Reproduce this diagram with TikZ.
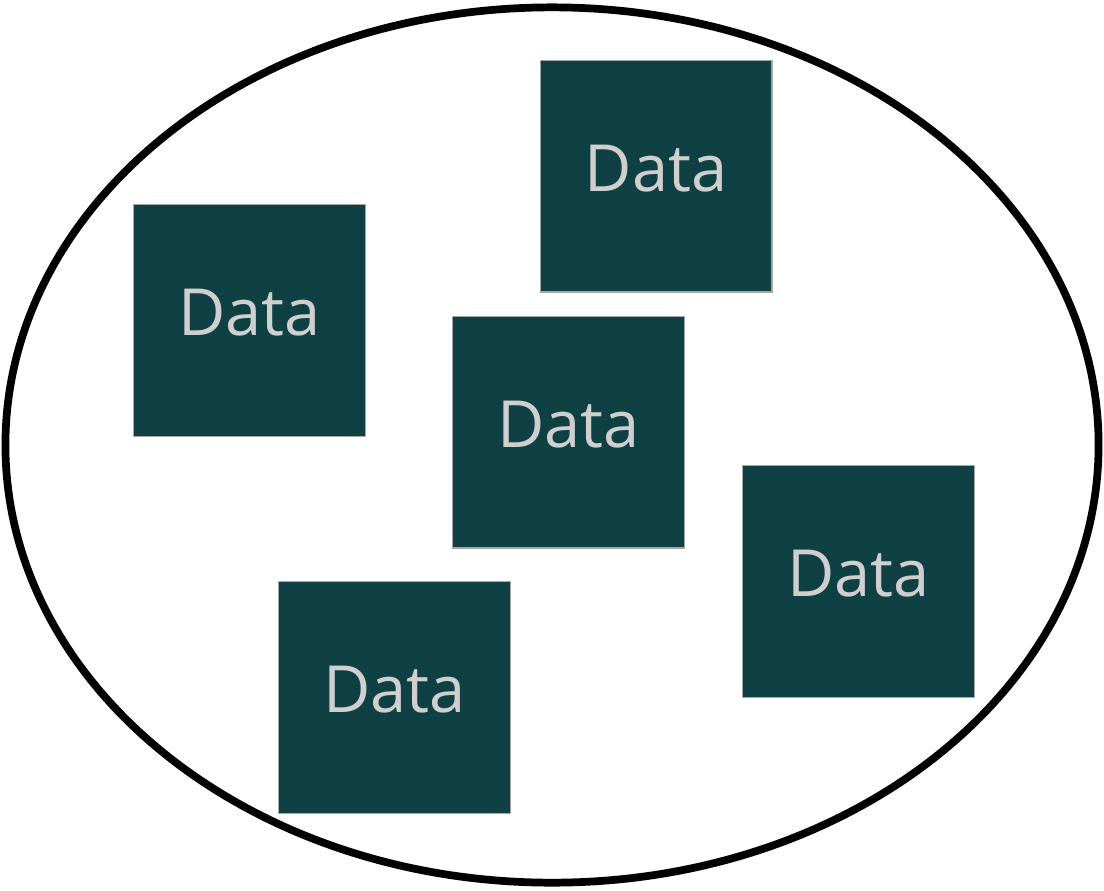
\documentclass[tikz,border=0pt]{standalone}
\usepackage{fontspec}
\setmainfont{Open Sans}
\definecolor{datafill}{HTML}{0F4044}
\definecolor{datatext}{HTML}{CFCFCF}
\begin{document}
\begin{tikzpicture}[x=0.02cm,y=-0.02cm,
    datablock/.style={draw=gray!70,line width=0.6pt,fill=datafill,
      minimum size=4.64cm,inner sep=0pt},
    datalabel/.style={text=datatext,font=\fontsize{37}{40}\selectfont}]
      \useasboundingbox (0,0) rectangle (1104,890);
      \draw[line width=4.4pt] (552,445) ellipse [x radius=1094*0.01cm, y radius=876*0.01cm];
      \draw
        (656,176) node[datablock] (d1){}
        (249.5,320.5) node[datablock] (d2){}
        (568.5,432) node[datablock] (d3){}
        (858.5,581.5) node[datablock] (d4){}
        (394.5,697.5) node[datablock] (d5){};
      \node[datalabel] at ([yshift=0.15cm]d1.center) {Data};
      \node[datalabel] at ([yshift=0.15cm]d2.center) {Data};
      \node[datalabel] at ([yshift=0.15cm]d3.center) {Data};
      \node[datalabel] at ([yshift=0.15cm]d4.center) {Data};
      \node[datalabel] at ([yshift=0.15cm]d5.center) {Data};
    \end{tikzpicture}
\end{document}
